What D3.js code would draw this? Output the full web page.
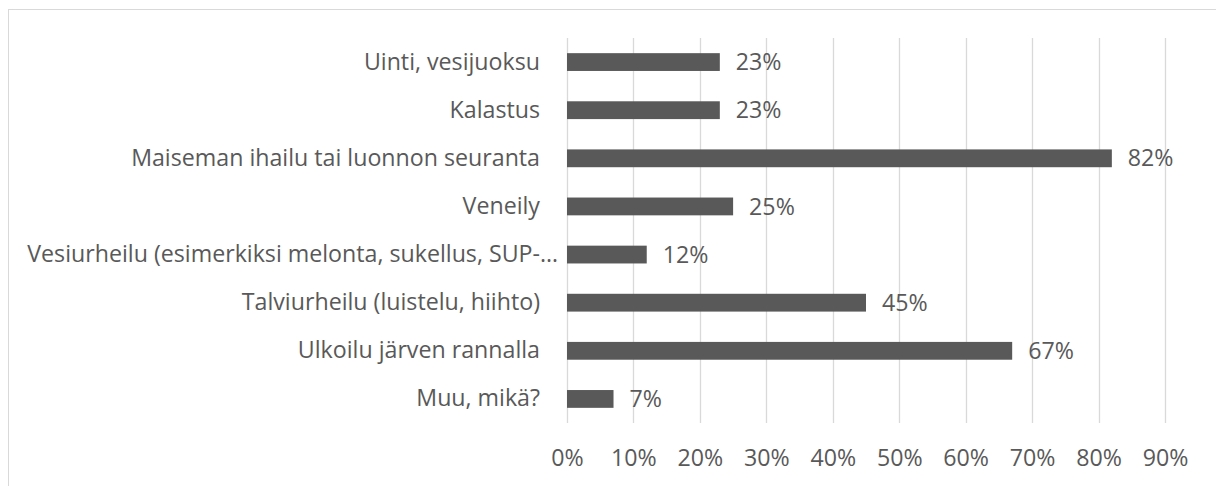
<!DOCTYPE html>
<html>
<head>
<meta charset="utf-8">
<script src="https://cdn.jsdelivr.net/npm/d3@7"></script>
<style>
  body { margin: 0; background: #fff; }
  text { font-family: "Open Sans", sans-serif; fill: #595959; }
</style>
</head>
<body>
<div id="chart"></div>
<script>
"use strict"

let categories = [
    "Uinti, vesijuoksu",
    "Kalastus",
    "Maiseman ihailu tai luonnon seuranta",
    "Veneily",
    "Vesiurheilu (esimerkiksi melonta, sukellus, SUP-…",
    "Talviurheilu (luistelu, hiihto)",
    "Ulkoilu järven rannalla",
    "Muu, mikä?"
]
let values = [23, 23, 82, 25, 12, 45, 67, 7]
let tickValues = [0, 10, 20, 30, 40, 50, 60, 70, 80, 90]

let width = 1216, height = 486
let fontSize = 23.2

let svg = d3.select("#chart").append("svg")
    .attr("width", width)
    .attr("height", height)

// chart border (clipped on the right and bottom in the original)
svg.append("rect")
    .attr("x", 8.5).attr("y", 9.5)
    .attr("width", width + 10).attr("height", height + 10)
    .style("fill", "none")
    .style("stroke", "#d9d9d9")
    .style("stroke-width", 1)

let x = d3.scaleLinear()
    .domain([0, 90])
    .range([567, 1165])

let y = d3.scaleBand()
    .domain(categories)
    .range([38, 423])
    .paddingInner(0.63)
    .paddingOuter(0.315)

// gridlines
svg.append("g")
    .selectAll("line")
    .data(tickValues)
    .enter().append("line")
    .attr("x1", d => Math.round(x(d)) + 0.5)
    .attr("x2", d => Math.round(x(d)) + 0.5)
    .attr("y1", 38)
    .attr("y2", 423)
    .style("stroke", "#d9d9d9")
    .style("stroke-width", 1.3)

// x axis labels
let xAxis = d3.axisBottom(x)
    .tickValues(tickValues)
    .tickSize(0)
    .tickPadding(0)
    .tickFormat(d => d + "%")

let gx = svg.append("g")
    .attr("transform", "translate(0,458)")
    .call(xAxis)
gx.select(".domain").remove()
gx.selectAll("text")
    .style("font-size", fontSize + "px")
    .attr("dy", "0.35em")
    .style("font-family", "'Open Sans', sans-serif")
    .attr("fill", "#595959")

// category labels
let yAxis = d3.axisLeft(y)
    .tickSize(0)
    .tickPadding(27)

let gy = svg.append("g")
    .attr("transform", "translate(567,0)")
    .call(yAxis)
gy.select(".domain").remove()
gy.selectAll("text")
    .style("font-size", fontSize + "px")
    .style("font-family", "'Open Sans', sans-serif")
    .attr("fill", "#595959")
    // the truncated label sits closer to the axis
    .attr("x", d => d.endsWith("…") ? -9 : -27)

// bars
svg.append("g")
    .selectAll("rect")
    .data(values)
    .enter().append("rect")
    .attr("x", x(0))
    .attr("y", (d, i) => y(categories[i]))
    .attr("width", d => x(d) - x(0))
    .attr("height", y.bandwidth())
    .style("fill", "#595959")

// value labels
svg.append("g")
    .selectAll("text")
    .data(values)
    .enter().append("text")
    .attr("x", d => x(d) + 16)
    .attr("y", (d, i) => y(categories[i]) + y.bandwidth() / 2)
    .attr("dy", "0.35em")
    .style("font-size", fontSize + "px")
    .text(d => d + "%")
</script>
</body>
</html>
